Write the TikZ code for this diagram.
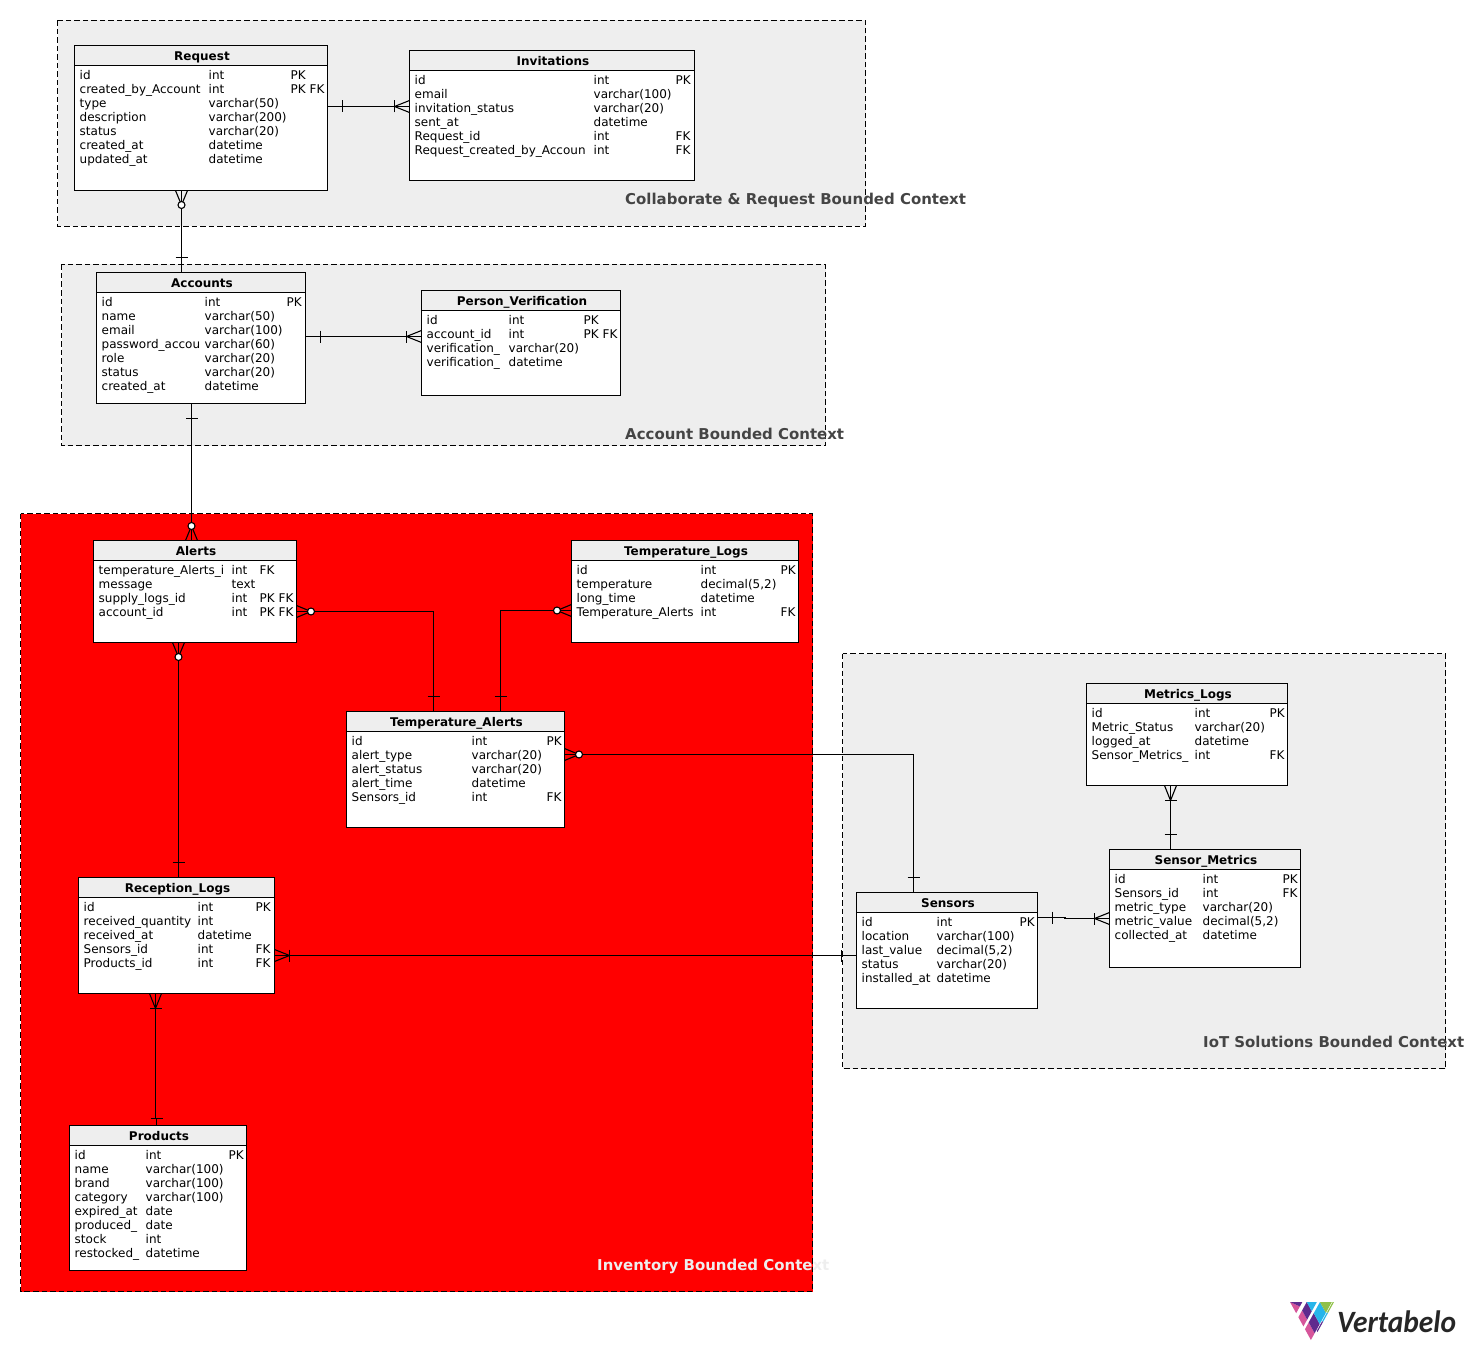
\documentclass[tikz,border=0pt]{standalone}
\usepackage{graphicx}
\usepackage{fontspec}
\setmainfont{DejaVu Sans}
\newfontfamily\logofont{Carlito}
\usetikzlibrary{positioning}
\definecolor{zonegray}{HTML}{EEEEEE}
\definecolor{labelgray}{HTML}{444444}
\definecolor{logopink}{HTML}{D6559B}
\definecolor{logopurple}{HTML}{5F2A8E}
\definecolor{logocyan}{HTML}{27B5EA}
\definecolor{logogreen}{HTML}{8FC048}

\tikzset{
    zone/.style={draw=black,line width=0.9pt,dash pattern=on 5.5pt off 3pt},
    zonelabel/.style={anchor=base west,inner sep=0pt,font=\fontsize{14.95}{17}\selectfont\bfseries},
    dbbody/.style={draw=black,fill=white,line width=1pt,anchor=north west,inner sep=0pt,outer sep=0pt},
    dbhead/.style={draw=black,fill=zonegray,line width=1pt,anchor=north west,inner sep=0pt,outer sep=0pt,
        minimum height=20,text height=11,text depth=1,font=\fontsize{12}{14}\selectfont\bfseries},
    dbrow/.style={anchor=base west,inner sep=0pt,font=\fontsize{12}{14}\selectfont},
    conn/.style={line width=1.1pt},
    pics/onemark/.style={code={\draw[conn] (15,-6) -- (15,6);}},
    pics/onemany/.style={code={
        \draw[conn] (0,-6) -- (15,0) -- (0,6);
        \draw[conn] (15,-6) -- (15,6);}},
    pics/zeromany/.style={code={
        \draw[conn] (0,-6) -- (14.5,0) -- (0,6);
        \draw[conn,fill=white] (14.5,0) circle (3.5);}}
}

% name, left, top, width, height, title, type column, key column, rows
\newcommand{\dbtable}[9]{
    \node[dbbody,minimum width=#4,minimum height=#5] (#1) at (#2,#3) {};
    \node[dbhead,minimum width=#4] (#1head) at (#2,#3) {\hspace*{2pt}#6};
    \foreach \cola/\colb/\colc [count=\nrow] in {#9} {
        \node[dbrow] (#1name\nrow) at ({#2+5},{#3+34+(\nrow-1)*14}) {\cola};
        \node[dbrow] (#1type\nrow) at ({#2+#7},{#3+34+(\nrow-1)*14}) {\colb};
        \ifx\colc\empty\else
            \node[dbrow] (#1key\nrow) at ({#2+#8},{#3+34+(\nrow-1)*14}) {\colc};
        \fi
    }
}
\newcommand{\logopoint}[2]{({1290+(#1-min(#2,#1))*22+min(#2,#1)*44},{1302+(#1-min(#2,#1))*40})}

\begin{document}
\begin{tikzpicture}[x=1pt,y=-1pt]
    \useasboundingbox (0,0) rectangle (1465,1351);

    % bounded contexts
    \draw[zone,fill=zonegray] (57.5,20.5) rectangle (865.5,226.5);
    \draw[zone,fill=zonegray] (61.5,264.5) rectangle (825.5,445.5);
    \draw[zone,fill=red] (20.5,513.5) rectangle (812.5,1291.5);
    \draw[zone,fill=zonegray] (842.5,653.5) rectangle (1445.5,1068.5);
    \node[zonelabel,text=labelgray] (collabel) at (625,204.5) {Collaborate \& Request Bounded Context};
    \node[zonelabel,text=labelgray] (acclabel) at (625,439) {Account Bounded Context};
    \node[zonelabel,text=zonegray] (invlabel) at (597,1270) {Inventory Bounded Context};
    \node[zonelabel,text=labelgray] (iotlabel) at (1203,1047) {IoT Solutions Bounded Context};

    % tables
    \dbtable{request}{74.5}{45.5}{253}{145}{Request}{134}{216}{id/int/PK,
        created\_by\_Account/int/PK FK,
        type/varchar(50)/{},
        description/varchar(200)/{},
        status/varchar(20)/{},
        created\_at/datetime/{},
        updated\_at/datetime/{}}
    \dbtable{invitations}{409.5}{50.5}{285}{130}{Invitations}{184}{266}{id/int/PK,
        email/varchar(100)/{},
        invitation\_status/varchar(20)/{},
        sent\_at/datetime/{},
        Request\_id/int/FK,
        Request\_created\_by\_Accoun/int/FK}
    \dbtable{accounts}{96.5}{272.5}{209}{131}{Accounts}{108}{190}{id/int/PK,
        name/varchar(50)/{},
        email/varchar(100)/{},
        password\_accou/varchar(60)/{},
        role/varchar(20)/{},
        status/varchar(20)/{},
        created\_at/datetime/{}}
    \dbtable{verification}{421.5}{290.5}{199}{105}{Person\_Verification}{87}{162}{id/int/PK,
        account\_id/int/PK FK,
        verification\_/varchar(20)/{},
        verification\_/datetime/{}}
    \dbtable{alerts}{93.5}{540.5}{203}{102}{Alerts}{138}{166}{temperature\_Alerts\_i/int/FK,
        message/text/{},
        supply\_logs\_id/int/PK FK,
        account\_id/int/PK FK}
    \dbtable{templogs}{571.5}{540.5}{227}{102}{Temperature\_Logs}{129}{209}{id/int/PK,
        temperature/{decimal(5,2)}/{},
        long\_time/datetime/{},
        Temperature\_Alerts/int/FK}
    \dbtable{tempalerts}{346.5}{711.5}{218}{116}{Temperature\_Alerts}{125}{200}{id/int/PK,
        alert\_type/varchar(20)/{},
        alert\_status/varchar(20)/{},
        alert\_time/datetime/{},
        Sensors\_id/int/FK}
    \dbtable{reception}{78.5}{877.5}{196}{116}{Reception\_Logs}{119}{177}{id/int/PK,
        received\_quantity/int/{},
        received\_at/datetime/{},
        Sensors\_id/int/FK,
        Products\_id/int/FK}
    \dbtable{products}{69.5}{1125.5}{177}{145}{Products}{76}{159}{id/int/PK,
        name/varchar(100)/{},
        brand/varchar(100)/{},
        category/varchar(100)/{},
        expired\_at/date/{},
        produced\_/date/{},
        stock/int/{},
        restocked\_/datetime/{}}
    \dbtable{metricslogs}{1086.5}{683.5}{201}{102}{Metrics\_Logs}{108}{183}{id/int/PK,
        Metric\_Status/varchar(20)/{},
        logged\_at/datetime/{},
        Sensor\_Metrics\_/int/FK}
    \dbtable{sensormetrics}{1109.5}{849.5}{191}{118}{Sensor\_Metrics}{93}{173}{id/int/PK,
        Sensors\_id/int/FK,
        metric\_type/varchar(20)/{},
        metric\_value/{decimal(5,2)}/{},
        collected\_at/datetime/{}}
    \dbtable{sensors}{856.5}{892.5}{181}{116}{Sensors}{80}{163}{id/int/PK,
        location/varchar(100)/{},
        last\_value/{decimal(5,2)}/{},
        status/varchar(20)/{},
        installed\_at/datetime/{}}

    % routing points of the connectors
    \coordinate (reqinv) at (0,106.5);
    \coordinate (reqacc) at (181.5,0);
    \coordinate (accver) at (0,336.5);
    \coordinate (accale) at (191.5,0);
    \coordinate (aleta) at (433.5,611.5);
    \coordinate (logta) at (500.5,610.5);
    \coordinate (tasen) at (913.5,754.5);
    \coordinate (alerec) at (178.5,0);
    \coordinate (recproda) at (155.5,1118.5);
    \coordinate (recprodb) at (156.5,1118.5);
    \coordinate (recsen) at (0,955.5);
    \coordinate (senmeta) at (1065,917.5);
    \coordinate (senmetb) at (1065,918.5);
    \coordinate (logmet) at (1170.5,0);

    \draw[conn] (request.east |- reqinv) -- (invitations.west |- reqinv);
    \draw[conn] (reqacc |- request.south) -- (reqacc |- accounts.north);
    \draw[conn] (accounts.east |- accver) -- (verification.west |- accver);
    \draw[conn] (accale |- accounts.south) -- (accale |- alerts.north);
    \draw[conn] (alerts.east |- aleta) -| (aleta |- tempalerts.north);
    \draw[conn] (templogs.west |- logta) -| (logta |- tempalerts.north);
    \draw[conn] (tempalerts.east |- tasen) -| (tasen |- sensors.north);
    \draw[conn] (alerec |- alerts.south) -- (alerec |- reception.north);
    \draw[conn] (recproda |- reception.south) -- (recproda) -- (recprodb) -- (recprodb |- products.north);
    \draw[conn] (reception.east |- recsen) -- (sensors.west |- recsen);
    \draw[conn] (sensors.east |- senmeta) -- (senmeta) -- (senmetb) -- (sensormetrics.west |- senmetb);
    \draw[conn] (logmet |- metricslogs.south) -- (logmet |- sensormetrics.north);

    % line ends
    \pic at (request.east |- reqinv) {onemark};
    \pic[rotate=180] at (invitations.west |- reqinv) {onemany};
    \pic[rotate=-90] at (reqacc |- request.south) {zeromany};
    \pic[rotate=90] at (reqacc |- accounts.north) {onemark};
    \pic at (accounts.east |- accver) {onemark};
    \pic[rotate=180] at (verification.west |- accver) {onemany};
    \pic[rotate=-90] at (accale |- accounts.south) {onemark};
    \pic[rotate=90] at (accale |- alerts.north) {zeromany};
    \pic at (alerts.east |- aleta) {zeromany};
    \pic[rotate=90] at (aleta |- tempalerts.north) {onemark};
    \pic[rotate=180] at (templogs.west |- logta) {zeromany};
    \pic[rotate=90] at (logta |- tempalerts.north) {onemark};
    \pic at (tempalerts.east |- tasen) {zeromany};
    \pic[rotate=90] at (tasen |- sensors.north) {onemark};
    \pic[rotate=-90] at (alerec |- alerts.south) {zeromany};
    \pic[rotate=90] at (alerec |- reception.north) {onemark};
    \pic[rotate=-90] at (recproda |- reception.south) {onemany};
    \draw[conn] ([xshift=-6]recprodb) -- ([xshift=6]recprodb);
    \pic[rotate=180] at (sensors.west |- recsen) {onemark};
    \pic at (reception.east |- recsen) {onemany};
    \pic at (sensors.east |- senmeta) {onemark};
    \pic[rotate=180] at (sensormetrics.west |- senmetb) {onemany};
    \pic[rotate=-90] at (logmet |- metricslogs.south) {onemany};
    \pic[rotate=90] at (logmet |- sensormetrics.north) {onemark};

    % logo
    \foreach \sa/\sb/\va/\vb/\logocol in {
        0/0.28/0/0.17/logopink, 0/0.28/0.17/0.28/logopurple,
        0.38/0.61/0/0.17/logopink, 0.38/0.61/0.17/0.38/logopurple, 0.38/0.61/0.38/0.61/logocyan,
        0.68/0.95/0/0.17/logopink, 0.68/0.95/0.17/0.4/logopurple, 0.68/0.95/0.4/0.68/logocyan,
        0.68/0.95/0.68/0.95/logogreen,
        0.97/1/0.25/0.5/logopurple, 0.97/1/0.5/0.72/logocyan, 0.97/1/0.72/1/logogreen} {
        \fill[\logocol] \logopoint{\sa}{\va} -- \logopoint{\sa}{\vb} -- \logopoint{\sb}{\vb} -- \logopoint{\sb}{\va} -- cycle;
    }
    \node[anchor=base west,inner sep=0pt,text=black!85,font=\logofont\bfseries\itshape\fontsize{31}{31}\selectfont] (vertabelo) at (1337,1332) {\scalebox{0.95}[1]{Vertabelo}};
\end{tikzpicture}
\end{document}
